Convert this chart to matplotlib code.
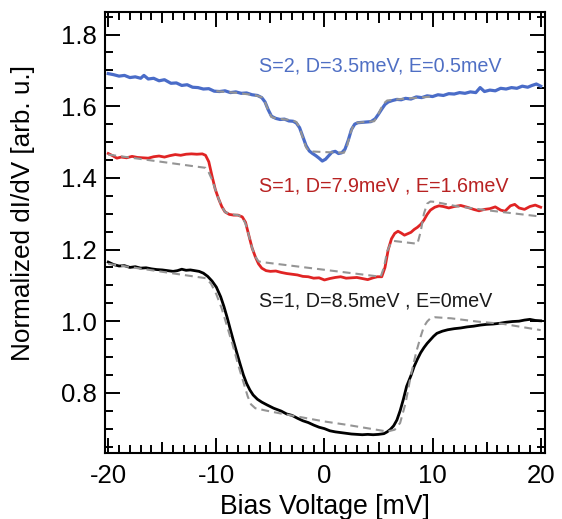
import numpy as np
import matplotlib
matplotlib.use('Agg')
import matplotlib.pyplot as plt
from matplotlib.ticker import MultipleLocator, FuncFormatter

plt.rcParams['font.family'] = ['Liberation Sans', 'DejaVu Sans']
plt.rcParams['axes.unicode_minus'] = False

# S=2, D=3.5meV, E=0.5meV (blue)
s2_bias = [-20.0, -19.5, -19.0, -18.5, -18.0, -17.5, -17.0, -16.7, -16.3, -15.8, -15.3, -14.8,
           -14.2, -13.7, -13.2, -12.7, -12.2, -11.7, -11.2, -10.7, -10.2, -9.7, -9.2, -8.7,
           -8.2, -7.7, -7.2, -6.7, -6.2, -5.8, -5.5, -5.2, -4.9, -4.5, -4.1, -3.7, -3.3, -2.9,
           -2.6, -2.3, -2.0, -1.7, -1.4, -1.1, -0.8, -0.5, -0.2, 0.1, 0.4, 0.7, 1.0, 1.3, 1.6,
           1.9, 2.2, 2.5, 2.8, 3.1, 3.5, 3.9, 4.3, 4.7, 5.0, 5.3, 5.6, 5.9, 6.3, 6.7, 7.1, 7.5,
           8.0, 8.5, 9.0, 9.5, 10.0, 10.5, 11.0, 11.5, 12.0, 12.5, 13.0, 13.5, 14.0, 14.4, 14.8,
           15.3, 15.8, 16.3, 16.8, 17.3, 17.8, 18.3, 18.8, 19.2, 19.6, 20.0]
s2_didv = [1.691, 1.688, 1.684, 1.686, 1.680, 1.682, 1.678, 1.686, 1.676, 1.678, 1.671, 1.674,
           1.664, 1.665, 1.658, 1.660, 1.653, 1.652, 1.648, 1.649, 1.642, 1.641, 1.643, 1.638,
           1.640, 1.636, 1.637, 1.632, 1.630, 1.624, 1.612, 1.590, 1.572, 1.566, 1.563, 1.564,
           1.559, 1.558, 1.553, 1.540, 1.515, 1.490, 1.475, 1.468, 1.462, 1.455, 1.447, 1.452,
           1.462, 1.472, 1.474, 1.468, 1.470, 1.480, 1.505, 1.535, 1.550, 1.554, 1.555, 1.556,
           1.557, 1.565, 1.578, 1.592, 1.605, 1.612, 1.616, 1.619, 1.618, 1.622, 1.620, 1.626,
           1.624, 1.629, 1.627, 1.632, 1.630, 1.635, 1.634, 1.638, 1.636, 1.640, 1.638, 1.652,
           1.641, 1.645, 1.643, 1.650, 1.648, 1.652, 1.650, 1.656, 1.653, 1.658, 1.662, 1.656]
s2_fit_bias = [-10.0, -8.0, -6.3, -5.8, -5.5, -5.2, -4.9, -4.5, -3.0, -2.6, -2.3, -2.0, -1.7,
               -1.4, 0.0, 1.8, 2.1, 2.4, 2.7, 3.0, 4.6, 4.9, 5.2, 5.5, 5.8, 7.0, 10.0]
s2_fit = [1.642, 1.637, 1.630, 1.625, 1.612, 1.588, 1.570, 1.566, 1.561, 1.556, 1.540, 1.512,
          1.485, 1.474, 1.472, 1.470, 1.490, 1.525, 1.548, 1.554, 1.558, 1.572, 1.592, 1.608,
          1.616, 1.620, 1.627]

# S=1, D=7.9meV, E=1.6meV (red)
s1a_bias = [-20.0, -19.6, -19.2, -18.8, -18.3, -17.8, -17.3, -16.8, -16.3, -15.8, -15.3, -14.8,
            -14.3, -13.8, -13.3, -12.8, -12.3, -11.8, -11.3, -11.0, -10.7, -10.4, -10.1, -9.8,
            -9.5, -9.2, -8.8, -8.4, -8.0, -7.6, -7.3, -7.0, -6.7, -6.4, -6.1, -5.8, -5.4, -5.0,
            -4.5, -4.0, -3.5, -3.0, -2.5, -2.0, -1.5, -1.0, -0.5, 0.0, 0.5, 1.0, 1.5, 2.0, 2.5,
            3.0, 3.5, 4.0, 4.5, 4.9, 5.3, 5.6, 5.9, 6.2, 6.5, 6.8, 7.1, 7.4, 7.7, 8.0, 8.3, 8.6,
            8.9, 9.2, 9.5, 9.8, 10.2, 10.6, 11.0, 11.5, 12.0, 12.6, 13.2, 13.8, 14.3, 14.8, 15.3,
            15.8, 16.3, 16.7, 17.2, 17.6, 18.0, 18.5, 19.0, 19.5, 20.0]
s1a_didv = [1.468, 1.462, 1.455, 1.458, 1.456, 1.460, 1.457, 1.456, 1.455, 1.459, 1.461, 1.458,
            1.462, 1.465, 1.463, 1.466, 1.467, 1.466, 1.467, 1.463, 1.445, 1.405, 1.368, 1.342,
            1.320, 1.305, 1.298, 1.296, 1.296, 1.291, 1.276, 1.240, 1.205, 1.180, 1.160, 1.148,
            1.141, 1.139, 1.140, 1.136, 1.133, 1.131, 1.129, 1.125, 1.124, 1.120, 1.121, 1.115,
            1.119, 1.122, 1.124, 1.120, 1.121, 1.122, 1.119, 1.116, 1.121, 1.124, 1.124, 1.150,
            1.200, 1.230, 1.245, 1.251, 1.246, 1.240, 1.244, 1.248, 1.256, 1.262, 1.270, 1.282,
            1.298, 1.310, 1.318, 1.322, 1.320, 1.316, 1.320, 1.323, 1.318, 1.312, 1.308, 1.312,
            1.314, 1.319, 1.310, 1.307, 1.322, 1.326, 1.316, 1.312, 1.320, 1.324, 1.318]
s1a_fit_bias = [-20.0, -11.0, -10.7, -10.4, -10.1, -9.8, -9.5, -9.2, -8.8, -8.0, -7.6, -7.3,
                -7.0, -6.7, -6.4, -6.1, -5.8, 5.2, 5.5, 5.8, 6.1, 6.4, 8.6, 8.9, 9.2, 9.5, 9.8,
                10.2, 12.2, 15.2, 20.0]
s1a_fit = [1.465, 1.428, 1.415, 1.395, 1.368, 1.342, 1.320, 1.305, 1.299, 1.296, 1.290, 1.272,
           1.240, 1.205, 1.180, 1.167, 1.165, 1.124, 1.150, 1.195, 1.215, 1.224, 1.216, 1.250,
           1.300, 1.328, 1.334, 1.333, 1.321, 1.309, 1.292]

# S=1, D=8.5meV, E=0meV (black)
s1b_bias = [-20.0, -19.5, -19.0, -18.5, -18.0, -17.5, -17.0, -16.5, -16.0, -15.5, -15.0, -14.5,
            -14.0, -13.6, -13.2, -12.8, -12.4, -12.0, -11.6, -11.2, -10.8, -10.4, -10.0, -9.6,
            -9.3, -9.0, -8.7, -8.4, -8.1, -7.8, -7.5, -7.2, -6.9, -6.6, -6.2, -5.8, -5.3, -4.7,
            -4.0, -3.5, -3.0, -2.5, -2.0, -1.5, -1.0, -0.5, 0.0, 0.5, 1.0, 1.5, 2.0, 2.5, 3.0,
            3.5, 4.0, 4.5, 5.0, 5.5, 5.8, 6.1, 6.4, 6.7, 7.0, 7.3, 7.6, 8.0, 8.3, 8.6, 8.9, 9.2,
            9.5, 9.8, 10.1, 10.4, 10.9, 11.4, 12.0, 12.6, 13.2, 13.8, 14.4, 15.0, 15.6, 16.2,
            16.8, 17.4, 18.0, 18.5, 19.0, 19.5, 20.0]
s1b_didv = [1.165, 1.158, 1.154, 1.155, 1.150, 1.152, 1.148, 1.149, 1.146, 1.144, 1.143, 1.141,
            1.139, 1.141, 1.145, 1.142, 1.143, 1.141, 1.139, 1.134, 1.125, 1.112, 1.095, 1.068,
            1.041, 1.010, 0.976, 0.943, 0.911, 0.880, 0.850, 0.826, 0.808, 0.794, 0.782, 0.774,
            0.766, 0.757, 0.749, 0.741, 0.737, 0.729, 0.722, 0.717, 0.710, 0.704, 0.700, 0.694,
            0.691, 0.689, 0.687, 0.685, 0.684, 0.683, 0.684, 0.683, 0.684, 0.686, 0.691, 0.698,
            0.708, 0.724, 0.750, 0.782, 0.818, 0.848, 0.874, 0.894, 0.912, 0.926, 0.938, 0.948,
            0.958, 0.966, 0.972, 0.976, 0.979, 0.981, 0.984, 0.986, 0.989, 0.991, 0.992, 0.994,
            0.997, 0.999, 1.000, 1.003, 1.005, 1.002, 1.001]
s1b_fit_bias = [-20.0, -11.0, -10.5, -10.0, -9.5, -9.0, -8.5, -8.0, -7.5, -7.1, -6.8, -6.4,
                -5.5, -4.0, -2.0, 0.0, 2.0, 4.0, 5.8, 6.5, 7.0, 7.5, 8.0, 8.5, 8.9, 9.2, 9.5,
                9.8, 10.2, 11.7, 14.1, 16.6, 20.0]
s1b_fit = [1.160, 1.120, 1.105, 1.075, 1.035, 0.985, 0.935, 0.880, 0.830, 0.790, 0.768, 0.757,
           0.751, 0.742, 0.731, 0.720, 0.711, 0.701, 0.692, 0.697, 0.716, 0.771, 0.850, 0.915,
           0.957, 0.985, 0.999, 1.008, 1.011, 1.008, 0.999, 0.992, 0.975]

labels = ['S=2, D=3.5meV, E=0.5meV', 'S=1, D=7.9meV , E=1.6meV', 'S=1, D=8.5meV , E=0meV']
label_y = [1.711, 1.376, 1.055]

fig = plt.figure(figsize=(5.62, 5.19), dpi=100)
ax = fig.add_axes([105 / 562, 1 - 453 / 519, 440 / 562, 441 / 519])

ax.plot(s2_bias, s2_didv, color='#4a6cc8', lw=2.3, zorder=2)
ax.plot(s1a_bias, s1a_didv, color='#e02424', lw=2.0, zorder=2)
ax.plot(s1b_bias, s1b_didv, color='black', lw=2.0, zorder=2)
for xb, yf in [(s2_fit_bias, s2_fit), (s1a_fit_bias, s1a_fit), (s1b_fit_bias, s1b_fit)]:
    ax.plot(xb, yf, color='#959595', lw=1.5, ls=(0, (3.8, 2.4)), zorder=3)

for txt, yy, c in zip(labels, label_y, ['#4f6fc4', '#b82222', '#1a1a1a']):
    ax.text(-6.1, yy, txt, color=c, fontsize=14.2, ha='left', va='center')

ax.set_xlim(-20.3, 20.4)
ax.set_ylim(0.632, 1.863)
ax.xaxis.set_major_locator(MultipleLocator(5))
ax.xaxis.set_minor_locator(MultipleLocator(1))
ax.xaxis.set_major_formatter(FuncFormatter(lambda v, p: '%d' % v if v % 10 == 0 else ''))
ax.yaxis.set_major_locator(MultipleLocator(0.2))
ax.yaxis.set_minor_locator(MultipleLocator(0.05))
ax.yaxis.set_major_formatter(FuncFormatter(lambda v, p: '%.1f' % v))

ax.tick_params(which='both', direction='in', top=True, right=True, width=1.4,
               labelsize=18.5)
ax.xaxis.set_tick_params(which='major', length=8, pad=8)
ax.yaxis.set_tick_params(which='major', length=11, pad=6)
ax.tick_params(which='minor', length=5.5)
for s in ax.spines.values():
    s.set_linewidth(1.5)

ax.set_xlabel('Bias Voltage [mV]', fontsize=19.2)
ax.set_ylabel('Normalized dI/dV [arb. u.]', fontsize=18.8)
ax.xaxis.set_label_coords(0.5, -0.093)
ax.yaxis.set_label_coords(-0.16, 0.544)

# longer ticks at multiples of 10
fig.canvas.draw()
locs = ax.xaxis.get_majorticklocs()
for loc, t in zip(locs, ax.xaxis.get_major_ticks(len(locs))):
    if loc % 10 == 0:
        t.tick1line.set_markersize(10.5)
        t.tick2line.set_markersize(10.5)

fig.savefig('out.png', dpi=100)
